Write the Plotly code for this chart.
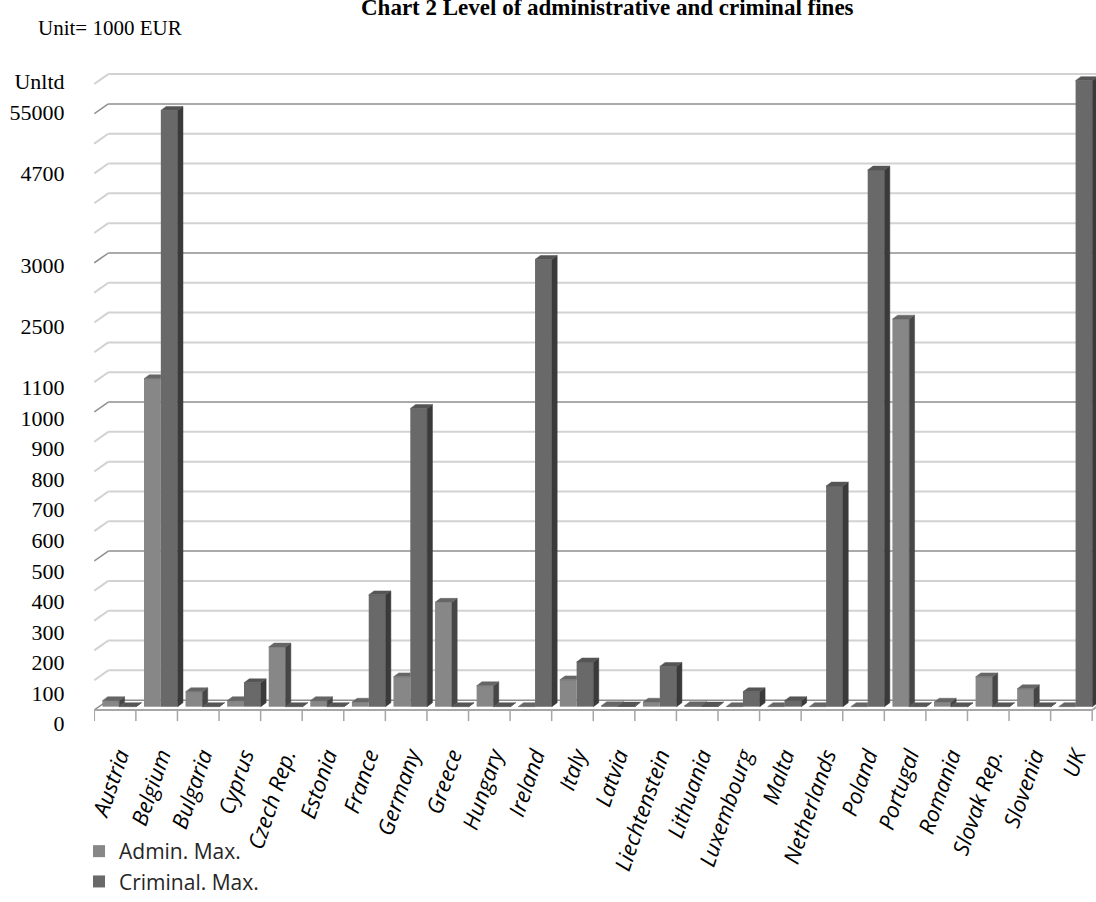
import numpy as np
import plotly.graph_objects as go

# ---------------------------------------------------------------- data
countries = ["Austria", "Belgium", "Bulgaria", "Cyprus", "Czech Rep.", "Estonia",
             "France", "Germany", "Greece", "Hungary", "Ireland", "Italy", "Latvia",
             "Liechtenstein", "Lithuania", "Luxembourg", "Malta", "Netherlands",
             "Poland", "Portugal", "Romania", "Slovak Rep.", "Slovenia", "UK"]

UNLIMITED = float("inf")

# maximum fines, unit = 1000 EUR
admin_max = [20, 1100, 50, 20, 200, 20, 15, 100, 350, 70, 0, 90, 3,
             15, 3, 0, 0, 0, 0, 2500, 15, 100, 60, 0]
criminal_max = [0, 55000, 0, 80, 0, 0, 375, 1000, 0, 0, 3000, 150, 2,
                135, 2, 50, 20, 740, 4700, 0, 0, 0, 0, UNLIMITED]

# value axis: linear up to 1100, then compressed steps for the large levels
tick_values = [0, 100, 200, 300, 400, 500, 600, 700, 800, 900, 1000, 1100,
               2500, 3000, 4700, 55000]
tick_slots = [0, 100, 200, 300, 400, 500, 600, 700, 800, 900, 1000, 1100,
              1300, 1500, 1800, 2000]
unlimited_slot = 2100
tick_text = ["0", "100", "200", "300", "400", "500", "600", "700", "800", "900",
             "1000", "1100", "2500", "3000", "4700", "55000", "Unltd"]
grid_slots = list(range(0, 2200, 100))


def to_axis(v):
    if np.isinf(v):
        return float(unlimited_slot)
    return float(np.interp(v, tick_values, tick_slots))


admin_h = [to_axis(v) for v in admin_max]
crim_h = [to_axis(v) for v in criminal_max]

# ---------------------------------------------------------------- geometry
W, H = 1096, 902
PLOT_L, PLOT_T, PLOT_B = 94, 60, 738
CAT_PX, X0_PX = 41.58, 94.3            # category width / left edge of floor
BAR_ZERO_PX, BAR_PX = 718.3, 0.3035    # bar plane: pixel of 0, px per unit
LAB_ZERO_PX, LAB_PX = 735.7, 0.3114    # front plane used by the value labels

x_range = [-0.5 + (PLOT_L - X0_PX) / CAT_PX, -0.5 + (W - X0_PX) / CAT_PX]
y_range = [(BAR_ZERO_PX - PLOT_B) / BAR_PX, (BAR_ZERO_PX - PLOT_T) / BAR_PX]
y2_range = [(LAB_ZERO_PX - PLOT_B) / LAB_PX, (LAB_ZERO_PX - PLOT_T) / LAB_PX]

BAR_W = 0.405
ADMIN_LEFT, CRIM_LEFT = -0.305, 0.10   # bar left edges relative to category
DX, DY = 5.3 / CAT_PX, 4.0 / BAR_PX    # depth of the 3-D bars
WALL_DX = 14.0 / CAT_PX                # depth of the floor / side wall
WALL_RISE = 21.7                       # back wall lines sit above bar plane
WALL_DROP = 10.0 / BAR_PX              # side wall slant height
FRONT_U = (BAR_ZERO_PX - 721.7) / BAR_PX
TICK_U = (BAR_ZERO_PX - 733.0) / BAR_PX

ADMIN_FRONT, ADMIN_SIDE, ADMIN_TOP = "#878787", "#464646", "#666666"
CRIM_FRONT, CRIM_SIDE, CRIM_TOP = "#696969", "#3a3a3a", "#555555"


def polys_to_xy(polys):
    xs, ys = [], []
    for p in polys:
        for (px, py) in p:
            xs.append(px)
            ys.append(py)
        xs.append(p[0][0])
        ys.append(p[0][1])
        xs.append(None)
        ys.append(None)
    return xs, ys


admin_side, admin_top, crim_side, crim_top = [], [], [], []
for i, (a, c) in enumerate(zip(admin_h, crim_h)):
    ax0 = i + ADMIN_LEFT
    ax1 = ax0 + BAR_W
    cx0 = i + CRIM_LEFT
    cx1 = cx0 + BAR_W
    # admin faces: hidden where the criminal bar stands in front of them
    if a > c:
        admin_side.append([(ax1, c), (ax1 + DX, c + DY), (ax1 + DX, a + DY), (ax1, a)])
        admin_top.append([(ax0, a), (ax0 + DX, a + DY), (ax1 + DX, a + DY), (ax1, a)])
    else:
        admin_top.append([(ax0, a), (ax0 + DX, a + DY), (ax1, a + DY), (ax1, a)])
    crim_side.append([(cx1, 0), (cx1 + DX, DY), (cx1 + DX, c + DY), (cx1, c)])
    crim_top.append([(cx0, c), (cx0 + DX, c + DY), (cx1 + DX, c + DY), (cx1, c)])

fig = go.Figure()

fig.add_trace(go.Bar(
    x=[i + ADMIN_LEFT + BAR_W / 2 for i in range(len(countries))], y=admin_h,
    width=BAR_W, marker=dict(color=ADMIN_FRONT, line=dict(width=0)),
    name="Admin. Max.", legendgroup="admin", hoverinfo="skip"))
fig.add_trace(go.Bar(
    x=[i + CRIM_LEFT + BAR_W / 2 for i in range(len(countries))], y=crim_h,
    width=BAR_W, marker=dict(color=CRIM_FRONT, line=dict(width=0)),
    name="Criminal. Max.", legendgroup="crim", hoverinfo="skip"))

for polys, col in [(admin_side, ADMIN_SIDE), (admin_top, ADMIN_TOP),
                   (crim_side, CRIM_SIDE), (crim_top, CRIM_TOP)]:
    xs, ys = polys_to_xy(polys)
    fig.add_trace(go.Scatter(x=xs, y=ys, mode="lines", fill="toself",
                             fillcolor=col, line=dict(color=col, width=0.5),
                             showlegend=False, hoverinfo="skip"))

# helper trace so the label axis is rendered
fig.add_trace(go.Scatter(x=[0], y=[0], yaxis="y2", mode="markers",
                         marker=dict(opacity=0), showlegend=False, hoverinfo="skip"))

# ---------------------------------------------------------------- walls, floor, grid
shapes = []
for v in grid_slots:
    major = v % 500 == 0
    col = "#8e8e8e" if major else "#d2d2d2"
    wdt = 1.5 if major else 2
    yb = v + WALL_RISE
    shapes.append(dict(type="line", xref="x", yref="y", x0=-0.5 + WALL_DX, x1=x_range[1],
                       y0=yb, y1=yb, line=dict(color=col, width=wdt), layer="below"))
    shapes.append(dict(type="line", xref="x", yref="y", x0=-0.5, x1=-0.5 + WALL_DX,
                       y0=yb - WALL_DROP, y1=yb, line=dict(color=col, width=wdt), layer="below"))

n = len(countries)
shapes.append(dict(type="line", xref="x", yref="y", x0=-0.5, x1=n - 0.5,
                   y0=FRONT_U, y1=FRONT_U, line=dict(color="#a6a6a6", width=2)))
shapes.append(dict(type="line", xref="x", yref="y", x0=n - 0.5, x1=n - 0.5 + WALL_DX,
                   y0=FRONT_U, y1=FRONT_U + WALL_DROP, line=dict(color="#a6a6a6", width=2)))
for k in range(n + 1):
    shapes.append(dict(type="line", xref="x", yref="y", x0=k - 0.5, x1=k - 0.5,
                       y0=FRONT_U, y1=TICK_U, line=dict(color="#a6a6a6", width=1.5)))

fig.update_layout(
    width=W, height=H,
    margin=dict(l=PLOT_L, r=0, t=PLOT_T, b=H - PLOT_B, pad=0),
    paper_bgcolor="white", plot_bgcolor="white",
    barmode="overlay",
    showlegend=True,
    shapes=shapes,
    xaxis=dict(range=x_range, showgrid=False, zeroline=False, showline=False,
               tickmode="array", tickvals=[i + 0.1 for i in range(n)], ticktext=countries,
               tickangle=-71, ticks="outside", ticklen=7, tickcolor="rgba(0,0,0,0)",
               tickfont=dict(family="Open Sans", size=22, color="#000000", style="italic")),
    yaxis=dict(range=y_range, showgrid=False, zeroline=False, showline=False,
               showticklabels=False, ticks=""),
    yaxis2=dict(range=y2_range, overlaying="y", side="left", anchor="x",
                showgrid=False, zeroline=False, showline=False,
                tickmode="array", tickvals=tick_slots + [unlimited_slot], ticktext=tick_text,
                ticks="outside", ticklen=24, tickcolor="rgba(0,0,0,0)",
                tickfont=dict(family="Liberation Serif", size=22, color="#000000")),
    legend=dict(orientation="v", x=(79 - PLOT_L) / (W - PLOT_L), xanchor="left",
                y=(PLOT_B - 845) / (PLOT_B - PLOT_T), yanchor="top",
                font=dict(family="Open Sans", size=21, color="#262626"),
                tracegroupgap=14, bgcolor="rgba(0,0,0,0)", traceorder="normal"),
    annotations=[
        dict(text="<b>Chart 2 Level of administrative and criminal fines</b>",
             xref="paper", yref="paper", x=(607 - PLOT_L) / (W - PLOT_L),
             y=1 + (PLOT_T - 7) / (PLOT_B - PLOT_T), xanchor="center", yanchor="middle",
             showarrow=False, font=dict(family="Liberation Serif", size=23, color="#000000")),
        dict(text="Unit= 1000 EUR", xref="paper", yref="paper",
             x=(36 - PLOT_L) / (W - PLOT_L), y=1 + (PLOT_T - 27) / (PLOT_B - PLOT_T),
             xanchor="left", yanchor="middle", showarrow=False,
             font=dict(family="Liberation Serif", size=21, color="#000000")),
    ],
)

fig.write_html("out.html")
